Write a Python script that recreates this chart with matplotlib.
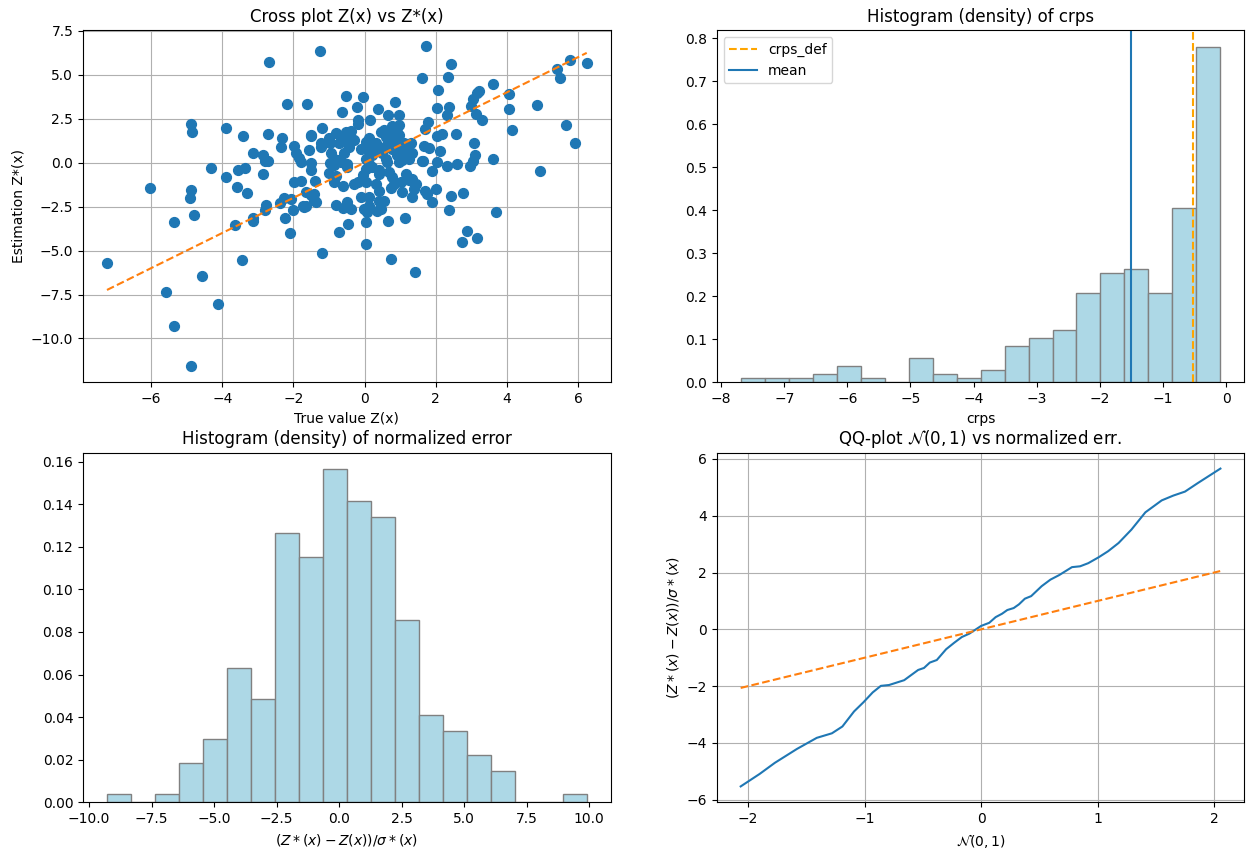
import matplotlib
matplotlib.use("Agg")
import matplotlib.pyplot as plt
import numpy as np

# ---------------- data ----------------
scatter_pts = [
    (-2.69, 5.73), (-1.26, 6.34), (-2.17, 3.36), (-1.62, 3.36), (-0.52, 3.78), (-0.63, 2.85),
    (-4.88, 2.18), (-4.85, 1.76), (-3.90, 1.99), (-3.42, 1.53), (-2.71, 1.60), (-2.32, 1.38),
    (-2.35, 0.86), (-3.14, 0.57), (-2.86, 0.44), (-2.80, 0.08), (-2.71, 0.10), (-2.87, -0.63),
    (-4.31, -0.30), (-3.90, -0.82), (-3.56, -0.42), (-3.35, -0.30), (-3.58, -1.39), (-3.31, -1.72),
    (-6.03, -1.45), (-4.88, -1.55), (-4.91, -2.02), (-1.99, 0.92), (-1.94, 0.53), (-1.84, 0.29),
    (-1.56, 0.69), (-1.52, 1.59), (-1.51, 1.50), (-1.20, 1.99), (-1.24, 1.11), (-1.24, 0.88),
    (-1.00, 1.39), (-0.81, 1.68), (-0.94, 0.57), (-0.59, 0.53), (-0.49, 1.30), (-1.80, 0.06),
    (-1.52, -0.04), (-1.52, -0.40), (-0.96, -0.04), (-0.75, 0.15), (-1.00, -0.61), (-0.80, -0.78),
    (-1.99, -1.09), (-1.80, -1.03), (-1.40, -1.03), (-0.60, -1.34), (-1.65, -1.66), (-1.52, -1.85),
    (-1.43, -2.14), (-2.27, -1.99), (-2.08, -2.05), (-2.37, -2.28), (-2.78, -2.43), (-0.80, -2.43),
    (-7.24, -5.73), (-5.58, -7.35), (-5.36, -9.28), (-4.88, -11.58), (-4.57, -6.44), (-4.13, -8.04),
    (-3.46, -5.56), (-5.36, -3.40), (-4.79, -3.00), (-3.65, -3.55), (-3.15, -3.17), (-3.14, -3.30),
    (-2.80, -2.67), (-2.24, -3.17), (-2.10, -4.03), (-2.01, -2.71), (-1.72, -2.48), (-1.65, -2.48),
    (-1.38, -2.25), (-1.20, -5.12), (-0.60, -2.60), (-0.73, -3.95), (-0.46, -3.51),
    (1.72, 6.63), (2.42, 5.60), (1.61, 4.80), (2.34, 4.87), (2.06, 4.11), (3.62, 4.45),
    (5.77, 5.85), (6.24, 5.66), (5.41, 5.31), (5.49, 4.80), (3.22, 4.07), (3.15, 3.95),
    (3.05, 3.59), (2.99, 3.21), (3.12, 2.79), (3.30, 2.45), (4.05, 3.88), (4.05, 3.06),
    (4.14, 1.87), (4.84, 3.27), (5.66, 2.12), (5.91, 1.13), (4.94, -0.48), (3.60, 0.23),
    (3.07, 1.13), (3.10, 0.44), (3.04, 0.10), (2.96, -0.19), (2.56, 1.60), (2.03, 3.08),
    (2.37, 3.15), (2.32, 2.69), (1.77, 2.29), (1.71, 1.91), (2.03, 1.49), (2.17, 1.60),
    (1.67, 0.97), (1.80, 0.83), (2.13, 0.67), (1.64, 0.11), (2.04, 0.06), (1.90, -0.46),
    (2.32, -0.19), (2.00, -1.51), (2.42, -1.91), (2.75, -1.72), (-0.05, 3.72), (-0.22, 3.19),
    (0.37, 3.04), (0.84, 3.42), (0.65, 2.68), (0.96, 2.73), (0.15, 2.45), (-0.19, 2.45),
    (-0.18, 2.22), (0.78, 2.06), (0.97, 2.16), (0.90, 1.74),
    (0.45, 1.76), (0.78, 1.80), (0.96, 1.56), (0.59, 1.47), (0.12, 1.38), (0.31, 1.09),
    (0.40, 0.90), (0.03, 1.19), (0.64, 0.99), (0.78, 0.80), (0.96, 1.28), (1.10, 1.09),
    (1.15, 0.80), (1.24, 0.61), (0.12, 0.61), (0.22, 0.42), (0.50, 0.52), (0.59, 0.23),
    (0.92, 0.42), (1.06, 0.23), (1.24, 0.23), (2.60, -0.06),
    (-0.53, 1.72), (-0.39, 1.82), (-0.39, 1.38), (-0.30, 1.28), (-0.96, 1.09), (-0.72, 1.09),
    (-0.63, 1.28), (-0.49, 1.09), (-0.44, 0.90), (-0.11, 0.80), (-0.86, 0.23), (-0.67, 0.04),
    (-0.49, -0.06), (0.03, 0.23), (0.12, -0.06),
    (-0.86, -0.15), (-0.49, -0.25), (-0.86, -1.11), (-0.30, -1.20), (-0.20, -1.11), (-0.06, -0.73),
    (0.03, -0.34), (0.03, -1.11), (-1.42, -1.78), (-1.70, -2.54), (-0.49, -2.25), (-0.39, -2.64),
    (-0.11, -1.97), (-0.02, -2.64), (0.08, -2.83), (0.03, -3.40), (0.03, -4.64),
    (0.22, -0.25), (0.40, -0.44), (0.64, 0.04), (0.96, 0.04), (1.06, 0.13), (1.62, 0.08),
    (0.40, -0.63), (0.68, -0.53), (0.78, -0.82), (1.15, -0.63), (1.34, -0.92), (1.43, -1.20),
    (1.24, -1.01), (1.38, -1.49), (1.34, -1.97), (1.71, -1.59), (1.76, -1.78), (1.90, -2.25),
    (2.37, -2.69), (0.31, -1.20), (0.40, -1.59), (0.12, -1.97), (0.12, -2.45), (0.40, -2.16),
    (0.54, -2.16), (0.36, -2.73), (0.45, -2.64), (0.65, -3.31), (1.13, -3.17), (2.87, -3.91),
    (3.17, -4.30), (2.74, -4.54), (0.73, -5.46), (1.41, -6.21), (3.68, -2.83),
    (-0.63, 1.49), (0.22, 0.82), (0.54, 1.87), (0.73, 1.30), (1.29, 1.11), (1.34, 0.53),
    (0.87, 0.92), (1.01, 0.73), (0.82, -1.19), (1.01, -1.09), (1.06, -1.66), (0.73, -1.47),
]
z_true = [p[0] for p in scatter_pts]
z_est = [p[1] for p in scatter_pts]

# crps histogram (density per bin)
crps_bin_min, crps_bin_max = -7.69, -0.09
crps_density = [0.0094, 0.0094, 0.0094, 0.0188, 0.0376, 0.0094, 0.0, 0.0564, 0.0188, 0.0094,
                0.0282, 0.0846, 0.1034, 0.1222, 0.2068, 0.2538, 0.2632, 0.2068, 0.4041, 0.7801]
crps_def = -0.52
crps_mean = -1.51

# normalized error histogram (density per bin)
err_bin_min, err_bin_max = -9.28, 9.90
err_density = [0.00372, 0.0, 0.00372, 0.0186, 0.0298, 0.0633, 0.0484, 0.1266, 0.1154, 0.1564,
               0.1415, 0.1341, 0.0857, 0.0410, 0.0335, 0.0223, 0.0149, 0.0, 0.0, 0.00372]

# QQ plot
qq_theo = [-2.063, -1.90, -1.77, -1.58, -1.41, -1.28, -1.19, -1.09, -1.01, -0.93, -0.86, -0.79,
           -0.66, -0.54, -0.49, -0.44, -0.38, -0.30, -0.23, -0.165, -0.10, 0.0, 0.07, 0.125,
           0.18, 0.225, 0.28, 0.325, 0.376, 0.43, 0.52, 0.595, 0.67, 0.78, 0.85, 0.92, 1.01,
           1.09, 1.18, 1.29, 1.41, 1.55, 1.65, 1.75, 1.86, 2.054]
qq_emp = [-5.53, -5.09, -4.70, -4.21, -3.82, -3.66, -3.42, -2.89, -2.57, -2.22, -1.99, -1.96,
          -1.79, -1.43, -1.36, -1.17, -1.08, -0.70, -0.47, -0.27, -0.15, 0.12, 0.23, 0.43,
          0.55, 0.68, 0.75, 0.88, 1.08, 1.17, 1.52, 1.75, 1.91, 2.19, 2.22, 2.33, 2.54,
          2.75, 3.04, 3.51, 4.12, 4.54, 4.71, 4.85, 5.15, 5.66]

# ---------------- figure ----------------
fig = plt.figure(figsize=(12.54, 8.59), dpi=100)
W, H = 1254, 859

def add_ax(l, r, t, b):
    return fig.add_axes([l / W, 1 - b / H, (r - l) / W, (b - t) / H])

ax1 = add_ax(83, 610.7, 30, 382.3)
ax2 = add_ax(716.7, 1244.4, 30, 382.3)
ax3 = add_ax(83, 610.7, 452.7, 802.3)
ax4 = add_ax(716.7, 1244.4, 452.7, 802.3)

# Cross plot
ax1.scatter(z_true, z_est, s=50, color='C0', zorder=2)
zmin, zmax = min(z_true), max(z_true)
ax1.plot([zmin, zmax], [zmin, zmax], '--', color='C1', zorder=3)
ax1.grid(True)
ax1.set_axisbelow(True)
ax1.set_title("Cross plot Z(x) vs Z*(x)")
ax1.set_xlabel("True value Z(x)")
ax1.set_ylabel("Estimation Z*(x)")

# crps histogram
edges = np.linspace(crps_bin_min, crps_bin_max, len(crps_density) + 1)
centers = 0.5 * (edges[:-1] + edges[1:])
ax2.hist(centers, bins=edges, weights=crps_density, color='lightblue', edgecolor='gray')
ax2.axvline(crps_def, color='orange', linestyle='--', label='crps_def')
ax2.axvline(crps_mean, color='C0', label='mean')
ax2.legend(loc='upper left')
ax2.set_title("Histogram (density) of crps")
ax2.set_xlabel("crps")

# normalized error histogram
edges = np.linspace(err_bin_min, err_bin_max, len(err_density) + 1)
centers = 0.5 * (edges[:-1] + edges[1:])
ax3.hist(centers, bins=edges, weights=err_density, color='lightblue', edgecolor='gray')
ax3.set_title("Histogram (density) of normalized error")
ax3.set_xlabel(r"$(Z*(x) - Z(x))/\sigma*(x)$")

# QQ plot
ax4.plot(qq_theo, qq_emp, color='C0')
ax4.plot([qq_theo[0], qq_theo[-1]], [qq_theo[0], qq_theo[-1]], '--', color='C1')
ax4.grid(True)
ax4.set_title(r"QQ-plot $\mathcal{N}(0,1)$ vs normalized err.")
ax4.set_xlabel(r"$\mathcal{N}(0,1)$")
ax4.set_ylabel(r"$(Z*(x) - Z(x))/\sigma*(x)$")

fig.savefig("out.png", dpi=100)
